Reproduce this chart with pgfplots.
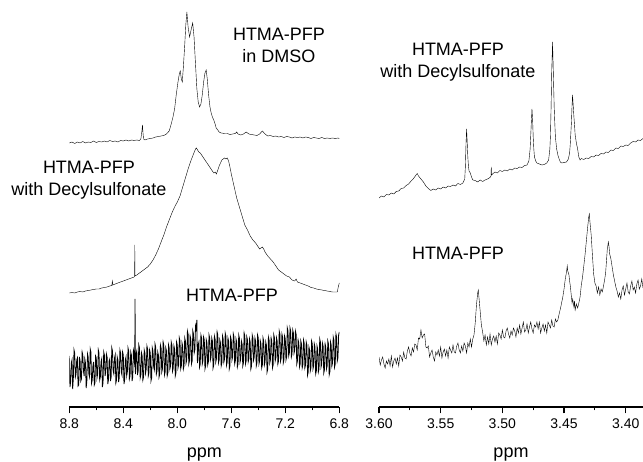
\documentclass[border=0pt]{standalone}
\usepackage{fontspec}
\setmainfont{Liberation Sans}
\usepackage{pgfplots}
\usepackage{pgfplotstable}
\pgfplotsset{compat=1.18}

% ---------- aromatic region (ppm, intensity offset) ----------
\pgfplotstableread{
ppm int
8.80 264
8.78 265
8.76 263.5
8.74 265
8.72 264
8.70 265.5
8.68 264
8.66 265
8.64 264.5
8.62 266
8.60 264.5
8.58 265.5
8.56 265
8.54 266
8.52 265
8.50 266.5
8.48 265.5
8.46 266
8.44 265
8.42 266.5
8.40 266
8.38 267
8.36 266
8.34 267
8.32 266.5
8.30 267
8.28 266.5
8.27 268
8.262 276
8.258 282
8.254 274
8.25 268
8.24 267
8.22 268
8.20 268.5
8.18 269
8.16 270
8.14 270.5
8.12 271
8.10 271.5
8.08 273
8.06 276
8.045 283
8.032 290
8.02 298
8.008 312
7.995 325
7.985 333
7.978 336
7.970 328
7.963 325
7.955 340
7.945 362
7.937 382
7.929 395
7.920 380
7.909 370
7.898 377
7.886 384
7.876 370
7.866 345
7.855 318
7.845 305
7.835 300
7.825 303
7.815 312
7.805 325
7.795 334
7.786 337
7.778 328
7.768 312
7.758 300
7.749 294
7.740 290
7.730 287
7.720 283
7.712 279
7.70 277
7.69 275
7.675 274
7.65 273.5
7.63 273.5
7.61 272.5
7.59 273
7.57 273.5
7.56 275
7.55 273
7.53 272
7.51 273
7.49 275
7.47 273
7.45 272.5
7.43 272
7.41 271.5
7.39 273
7.37 276
7.35 273
7.33 271
7.31 271.5
7.29 270.5
7.27 271
7.25 270
7.23 270.5
7.21 269.5
7.19 270.5
7.17 270
7.15 269
7.13 270
7.11 269.5
7.09 270
7.07 269
7.05 270
7.03 269.5
7.01 268.5
6.99 269.5
6.97 269
6.95 268.5
6.93 269.5
6.91 268.5
6.89 269
6.87 268.5
6.85 269
6.83 268.5
6.81 269
6.80 268.5
}\aroDMSO

\pgfplotstableread{
ppm int
8.80 114
8.78 114.5
8.76 114
8.74 115
8.72 115.5
8.70 115
8.68 116
8.66 116.5
8.64 117
8.62 117.5
8.60 118
8.58 118
8.56 119
8.54 119.5
8.52 120
8.50 121
8.485 121.5
8.481 126
8.477 122
8.46 123
8.44 124
8.42 125
8.40 126
8.38 127
8.36 128
8.34 129
8.32 130
8.316 131
8.315 162
8.314 131
8.30 132
8.28 134
8.26 136
8.24 138
8.22 140
8.20 143
8.18 147
8.16 152
8.14 158
8.12 165
8.10 172
8.08 180
8.06 187
8.04 194
8.02 200
8.00 205
7.98 211
7.96 220
7.94 229
7.92 238
7.90 246
7.88 253
7.865 258
7.858 259
7.85 257
7.84 255
7.83 254
7.82 252
7.80 248
7.78 244
7.76 240
7.75 238
7.74 236
7.73 234
7.72 235
7.71 233
7.70 237
7.69 241
7.68 244
7.67 247
7.66 248
7.65 249
7.64 248
7.63 249
7.62 246
7.61 240
7.60 233
7.59 227
7.58 221
7.56 209
7.54 200
7.52 191
7.50 182
7.48 177
7.46 171
7.44 167
7.42 164
7.40 160
7.39 158
7.38 159
7.37 160
7.36 158
7.35 155
7.33 151
7.31 148
7.29 145
7.27 141
7.25 137
7.23 135
7.21 133
7.19 131
7.17 130
7.15 127
7.13 126
7.12 128
7.11 125
7.09 124
7.07 123
7.05 122
7.03 121
7.01 119.5
6.99 119
6.97 118
6.95 117.5
6.93 117
6.91 116.5
6.89 116
6.87 115.5
6.85 115
6.83 115
6.815 115
6.806 121
6.80 124
}\aroDecyl

\pgfplotstableread{
ppm int
8.80 51
8.795 20
8.79 25
8.785 44
8.78 47
8.775 18
8.77 29
8.765 57
8.76 54
8.755 30
8.75 33
8.745 47
8.74 49
8.735 21
8.73 22
8.725 50
8.72 46
8.715 26
8.71 28
8.705 55
8.70 52
8.695 36
8.69 31
8.685 48
8.68 44
8.675 19
8.67 26
8.665 53
8.66 50
8.655 33
8.65 30
8.645 58
8.64 55
8.635 24
8.63 27
8.625 41
8.62 45
8.615 22
8.61 24
8.605 51
8.60 49
8.595 29
8.59 33
8.585 57
8.58 54
8.575 27
8.57 30
8.565 45
8.56 48
8.555 20
8.55 24
8.545 55
8.54 52
8.535 31
8.53 35
8.525 53
8.52 50
8.515 23
8.51 27
8.505 46
8.50 48
8.495 26
8.49 30
8.485 59
8.48 56
8.475 36
8.47 33
8.465 49
8.46 52
8.455 24
8.45 27
8.445 50
8.44 47
8.435 25
8.43 29
8.425 57
8.42 54
8.415 35
8.41 32
8.405 55
8.40 52
8.395 23
8.39 27
8.385 47
8.38 50
8.375 31
8.37 35
8.365 59
8.36 56
8.355 28
8.35 31
8.345 55
8.34 52
8.335 26
8.33 30
8.325 57
8.32 54
8.315 40
8.313 108
8.311 38
8.31 33
8.305 53
8.30 56
8.295 32
8.29 36
8.285 62
8.28 59
8.275 29
8.27 32
8.265 54
8.26 51
8.255 27
8.25 30
8.245 57
8.24 54
8.235 34
8.23 38
8.225 61
8.22 58
8.215 31
8.21 34
8.205 57
8.20 54
8.195 26
8.19 29
8.185 59
8.18 56
8.175 40
8.17 37
8.165 63
8.16 60
8.155 33
8.15 36
8.145 55
8.14 52
8.135 30
8.13 33
8.125 62
8.12 59
8.115 35
8.11 38
8.105 65
8.10 62
8.095 32
8.09 35
8.085 59
8.08 56
8.075 31
8.07 34
8.065 62
8.06 59
8.055 38
8.05 41
8.045 65
8.04 62
8.035 36
8.03 39
8.025 61
8.02 58
8.015 31
8.01 34
8.005 65
8.00 62
7.995 39
7.99 42
7.985 69
7.98 66
7.975 38
7.97 41
7.965 64
7.96 61
7.955 38
7.95 41
7.945 69
7.94 66
7.935 44
7.93 47
7.925 76
7.92 73
7.915 43
7.91 46
7.905 71
7.90 68
7.895 43
7.89 46
7.885 76
7.88 73
7.875 54
7.87 57
7.865 81
7.86 78
7.855 87
7.852 48
7.85 44
7.845 62
7.84 65
7.835 40
7.83 43
7.825 72
7.82 69
7.815 43
7.81 46
7.805 70
7.80 67
7.795 38
7.79 41
7.785 67
7.78 64
7.775 42
7.77 45
7.765 72
7.76 69
7.755 47
7.75 50
7.745 69
7.74 66
7.735 39
7.73 42
7.725 71
7.72 68
7.715 45
7.71 48
7.705 75
7.70 72
7.695 44
7.69 47
7.685 67
7.68 64
7.675 41
7.67 44
7.665 71
7.66 68
7.655 45
7.65 48
7.645 74
7.64 71
7.635 42
7.63 45
7.625 69
7.62 66
7.615 38
7.61 41
7.605 70
7.60 67
7.595 47
7.59 50
7.585 73
7.58 70
7.575 43
7.57 46
7.565 68
7.56 65
7.555 40
7.55 43
7.545 72
7.54 69
7.535 45
7.53 48
7.525 66
7.52 63
7.515 41
7.51 44
7.505 74
7.50 71
7.495 43
7.49 46
7.485 70
7.48 67
7.475 45
7.47 48
7.465 68
7.46 65
7.455 38
7.45 41
7.445 72
7.44 69
7.435 47
7.43 50
7.425 69
7.42 66
7.415 41
7.41 44
7.405 72
7.40 69
7.395 43
7.39 46
7.385 66
7.38 63
7.375 39
7.37 42
7.365 69
7.36 66
7.355 42
7.35 45
7.345 65
7.34 62
7.335 35
7.33 38
7.325 70
7.32 67
7.315 44
7.31 47
7.305 69
7.30 66
7.295 39
7.29 42
7.285 72
7.28 69
7.275 46
7.27 49
7.265 69
7.26 66
7.255 43
7.25 46
7.245 76
7.24 73
7.235 46
7.23 49
7.225 73
7.22 70
7.215 44
7.21 47
7.205 71
7.20 68
7.195 47
7.19 50
7.185 79
7.18 76
7.175 51
7.17 54
7.165 79
7.16 76
7.155 50
7.15 53
7.145 77
7.14 74
7.135 54
7.13 57
7.125 76
7.12 73
7.115 43
7.11 46
7.105 67
7.10 64
7.095 40
7.09 43
7.085 66
7.08 63
7.075 39
7.07 42
7.065 67
7.06 64
7.055 39
7.05 42
7.045 65
7.04 62
7.035 32
7.03 35
7.025 60
7.02 57
7.015 36
7.01 39
7.005 66
7.00 63
6.995 38
6.99 41
6.985 63
6.98 60
6.975 33
6.97 36
6.965 61
6.96 58
6.955 35
6.95 38
6.945 68
6.94 65
6.935 40
6.93 43
6.925 64
6.92 61
6.915 34
6.91 37
6.905 63
6.90 60
6.895 38
6.89 41
6.885 66
6.88 63
6.875 32
6.87 35
6.865 65
6.86 62
6.855 41
6.85 44
6.845 70
6.84 67
6.835 40
6.83 43
6.825 73
6.82 70
6.815 46
6.81 49
6.805 72
6.80 75
}\aroNeat

% ---------- aliphatic region ----------
\pgfplotstableread{
ppm int
3.600 209
3.598 211
3.596 210
3.594 212.5
3.592 212
3.590 214
3.588 213
3.586 215.5
3.584 216
3.582 218.5
3.580 219
3.578 221.5
3.576 223
3.574 226
3.572 228.5
3.570 232
3.569 233.5
3.568 231
3.566 228
3.564 225
3.562 221
3.560 218.5
3.558 216.5
3.556 218
3.554 217
3.552 219
3.550 218
3.548 220
3.546 219
3.544 221
3.542 220.5
3.540 222
3.538 221
3.536 223.5
3.534 222.5
3.532 224
3.5305 228
3.530 240
3.5295 262
3.529 278
3.5285 265
3.528 250
3.5275 241
3.527 236
3.526 234
3.525 230
3.524 227
3.522 226.5
3.520 225
3.518 227
3.516 225.5
3.514 227
3.512 228
3.510 229.5
3.5092 231
3.509 240
3.5088 232
3.508 233
3.506 235
3.504 234
3.502 236.5
3.500 235.5
3.498 237
3.496 236
3.494 238
3.492 237
3.490 239
3.488 238.5
3.486 240
3.484 239.5
3.482 241.5
3.480 242
3.4785 246
3.4775 258
3.4765 285
3.476 298
3.4755 288
3.475 270
3.4745 258
3.474 250
3.473 246
3.472 244
3.470 243
3.468 242
3.466 242.5
3.464 244
3.4625 247
3.4615 258
3.461 272
3.4605 300
3.460 335
3.4593 365
3.4588 340
3.458 300
3.4575 284
3.457 270
3.456 258
3.455 252
3.454 248
3.453 245
3.452 244
3.450 244.5
3.448 245
3.4465 248
3.4455 254
3.445 262
3.444 285
3.4435 302
3.4431 312
3.4425 300
3.442 290
3.4415 282
3.441 272
3.440 264
3.439 258
3.438 250
3.437 247
3.436 248.5
3.434 247.5
3.432 249
3.430 248.5
3.428 250.5
3.426 250
3.424 252
3.422 251.5
3.420 253.5
3.418 253
3.416 255
3.414 254.5
3.412 257
3.410 256.5
3.408 259
3.406 258.5
3.404 261
3.402 260.5
3.400 262
3.398 261.5
3.396 264
3.394 265.5
3.392 265
3.390 267
3.388 266.5
3.386 268.5
}\aliDecyl

\pgfplotstableread{
ppm int
3.600 50
3.599 42
3.598 47
3.597 50
3.596 43
3.595 39
3.594 46
3.593 43
3.592 48
3.591 41
3.590 51
3.589 40
3.588 46
3.587 49
3.586 43
3.585 49
3.584 41
3.583 52
3.582 50
3.581 46
3.580 55
3.579 49
3.578 48
3.577 56
3.576 60
3.575 54
3.574 51
3.573 59
3.572 55
3.571 63
3.570 62
3.569 57
3.568 69
3.567 68
3.566 77
3.565 69
3.564 72
3.563 73
3.562 60
3.561 59
3.560 61
3.559 50
3.558 54
3.557 57
3.556 50
3.555 46
3.554 55
3.553 52
3.552 57
3.551 51
3.550 60
3.549 49
3.548 55
3.547 58
3.546 51
3.545 57
3.544 49
3.543 60
3.542 57
3.541 54
3.540 62
3.539 55
3.538 54
3.537 61
3.536 64
3.535 57
3.534 54
3.533 61
3.532 56
3.531 64
3.530 61
3.529 54
3.528 64
3.527 60
3.526 68
3.525 60
3.524 68
3.523 72
3.522 84
3.521 102
3.520 114
3.5195 117
3.519 110
3.518 96
3.517 82
3.516 75
3.515 66
3.514 72
3.513 62
3.512 70
3.511 63
3.510 73
3.509 62
3.508 68
3.507 71
3.506 65
3.505 71
3.504 63
3.503 74
3.502 72
3.501 68
3.500 77
3.499 70
3.498 69
3.497 76
3.496 79
3.495 73
3.494 69
3.493 76
3.492 72
3.491 79
3.490 76
3.489 70
3.488 79
3.487 74
3.486 82
3.485 73
3.484 79
3.483 85
3.482 75
3.481 77
3.480 83
3.479 74
3.478 80
3.477 85
3.476 78
3.475 74
3.474 82
3.473 80
3.472 85
3.471 78
3.470 85
3.469 74
3.468 79
3.467 83
3.466 76
3.465 82
3.464 74
3.463 85
3.462 82
3.461 79
3.460 87
3.459 81
3.458 80
3.457 88
3.456 85
3.455 87
3.454 93
3.453 98
3.452 104
3.451 110
3.450 118
3.449 128
3.448 135
3.4474 141
3.447 136
3.446 132
3.4455 126
3.445 122
3.444 110
3.4435 104
3.443 108
3.442 100
3.4415 106
3.441 97
3.440 103
3.439 99
3.438 104
3.437 110
3.436 122
3.435 130
3.434 141
3.433 152
3.432 165
3.431 178
3.430 190
3.4295 193
3.429 185
3.428 172
3.427 152
3.426 133
3.425 124
3.424 121
3.423 114
3.422 120
3.421 112
3.420 118
3.419 115
3.418 121
3.417 128
3.4163 134
3.4155 148
3.415 157
3.4141 165
3.4135 160
3.413 153
3.412 148
3.411 140
3.410 132
3.409 126
3.408 120
3.407 116
3.406 110
3.405 114
3.404 108
3.403 117
3.402 121
3.401 112
3.400 118
3.399 124
3.398 115
3.397 113
3.396 121
3.395 126
3.394 117
3.393 120
3.392 114
3.391 123
3.390 127
3.389 118
3.388 121
3.387 128
3.386 119
}\aliNeat

\pgfplotsset{
  nmr/.style={
    scale only axis,
    height=407pt,
    ymin=0, ymax=407,
    x dir=reverse,
    axis x line=bottom,
    axis y line=none,
    axis line style={-, line width=1.3pt, black},
    tick align=outside,
    major tick length=6.5pt,
    minor tick length=3.5pt,
    every tick/.style={black, line width=1.2pt},
    tick label style={font=\fontsize{14}{16}\selectfont, black},
    /pgf/number format/assume math mode=true,
    xticklabel shift=2pt,
    xlabel={ppm},
    every axis x label/.style={at={(axis description cs:0.5,0)}, anchor=base, yshift=-51pt,
      font=\fontsize{18}{20}\selectfont},
    cycle list={{black, no markers, line width=1.05pt, line join=round}},
  },
}
\tikzset{spec/.style={font=\fontsize{18}{22}\selectfont, align=center, inner sep=0pt}}

\begin{document}
\begin{tikzpicture}
\path[use as bounding box] (0,0) rectangle (643pt,462pt);

\begin{axis}[nmr,
  at={(69.3pt,55pt)}, anchor=south west,
  width=270pt,
  xmin=6.8, xmax=8.8,
  xtick={6.8,7.2,7.6,8.0,8.4,8.8},
  minor xtick={7.0,7.4,7.8,8.2,8.6},
  xticklabel style={/pgf/number format/.cd, fixed, fixed zerofill, precision=1},
]
\addplot table[x=ppm, y=int] {\aroDMSO};
\addplot table[x=ppm, y=int] {\aroDecyl};
\addplot[black, no markers, line width=0.8pt] table[x=ppm, y=int] {\aroNeat};
\end{axis}

\begin{axis}[nmr,
  at={(379pt,55pt)}, anchor=south west,
  width=264pt,
  xmin=3.386, xmax=3.60,
  xtick={3.40,3.45,3.50,3.55,3.60},
  minor xtick={3.425,3.475,3.525,3.575},
  xticklabel style={/pgf/number format/.cd, fixed, fixed zerofill, precision=2},
]
\addplot table[x=ppm, y=int] {\aliDecyl};
\addplot table[x=ppm, y=int] {\aliNeat};
\end{axis}

% spectrum captions
\node[spec] at (279pt,417pt) {HTMA-PFP\\in DMSO};
\node[spec] at (89pt,282pt) {HTMA-PFP\\with Decylsulfonate};
\node[spec] at (232pt,167pt) {HTMA-PFP};
\node[spec] at (458pt,400pt) {HTMA-PFP\\with Decylsulfonate};
\node[spec] at (458pt,209pt) {HTMA-PFP};
\end{tikzpicture}
\end{document}
